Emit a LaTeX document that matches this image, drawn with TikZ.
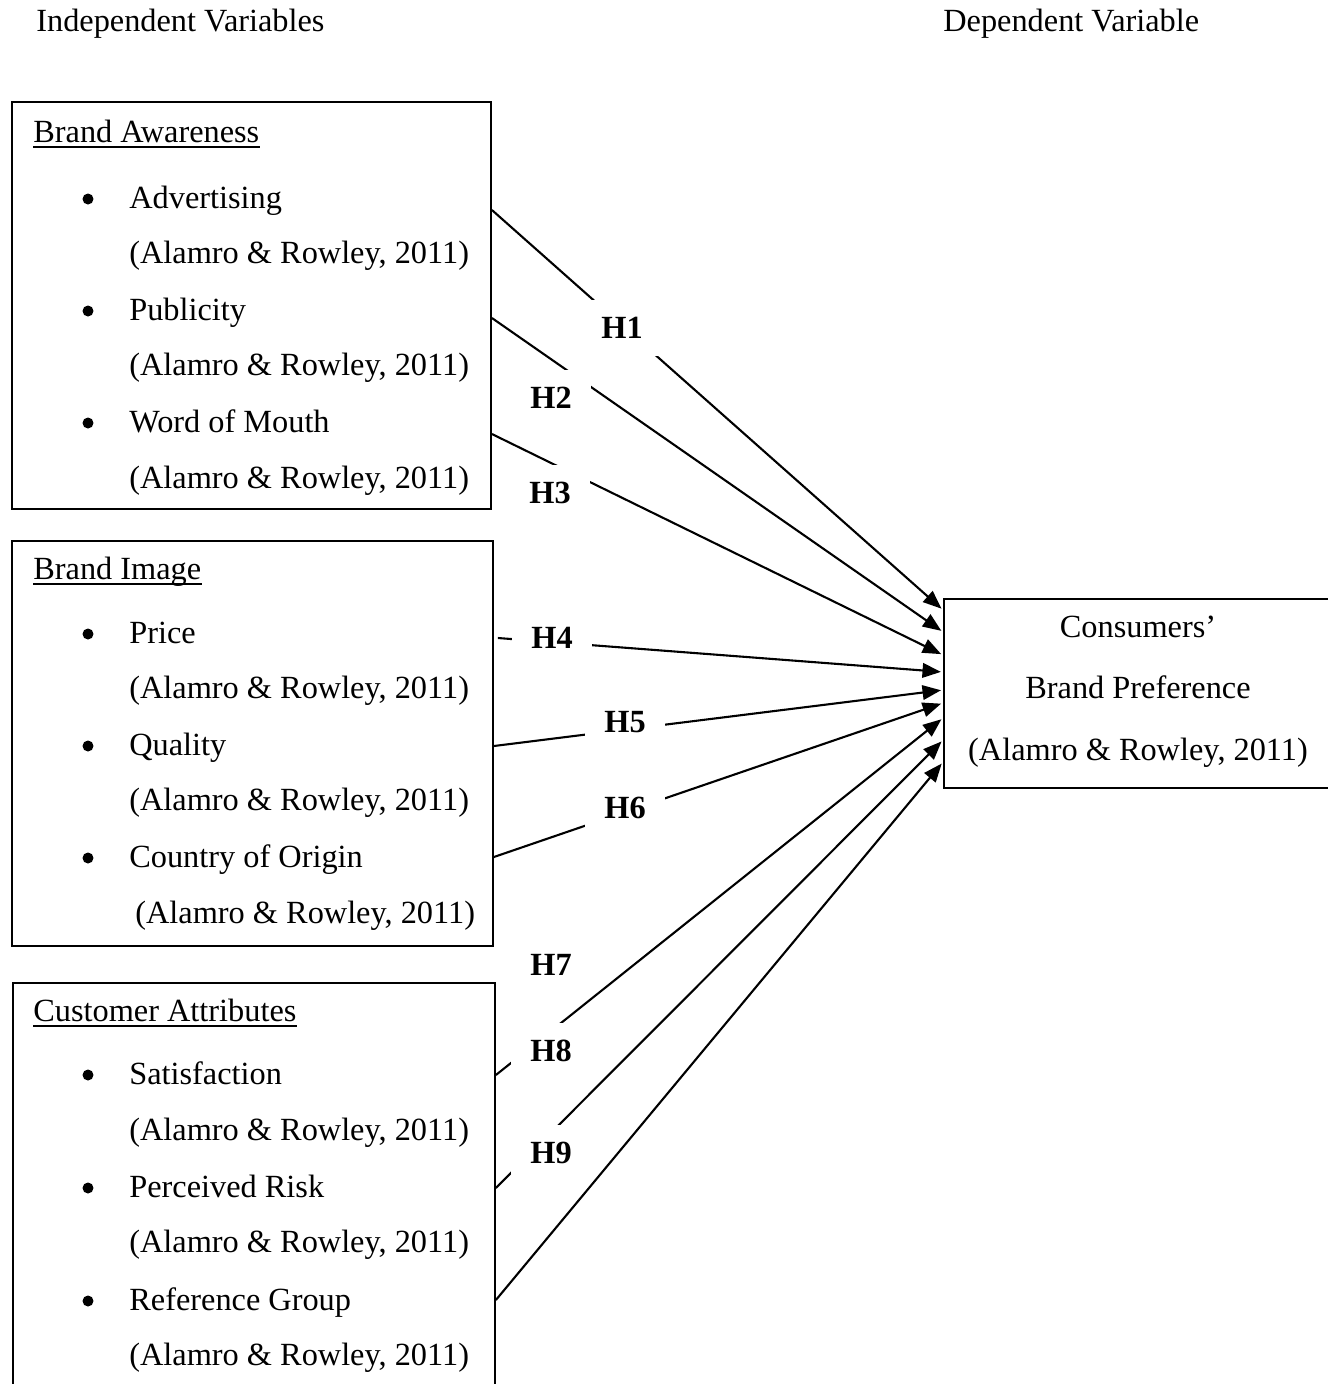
\documentclass[tikz,border=0pt]{standalone}
\usepackage{fontspec}
\setmainfont{Liberation Serif}
\usetikzlibrary{arrows.meta}
\begin{document}
\begin{tikzpicture}[x=0.02cm,y=-0.02cm, font=\fontsize{18.4}{21}\selectfont,
  box/.style={draw, line width=0.04cm, anchor=north west, inner sep=0},
  txt/.style={anchor=base west, inner sep=0},
  ctxt/.style={anchor=base, inner sep=0},
  hyp/.style={fill=white, inner sep=0, minimum width=1.62cm, minimum height=1.12cm, font=\fontsize{18.4}{21}\selectfont\bfseries},
  link/.style={line width=0.042cm, shorten >=0.04cm, -{Triangle[length=0.37cm,width=0.29cm]}},
  bul/.style={circle, fill, inner sep=0, minimum size=0.22cm},
  uline/.style={line width=0.03cm}]
\useasboundingbox (0,0) rectangle (1328,1384);
\clip (0,0) rectangle (1328,1384);

% headers
\node[txt] (iv) at (36,31) {Independent Variables};
\node[txt] (dv) at (943,31) {Dependent Variable};

% boxes
\node[box, minimum width=9.58cm, minimum height=8.14cm] (ba) at (11,101) {};
\node[box, minimum width=9.62cm, minimum height=8.10cm] (bi) at (11,540) {};
\node[box, minimum width=9.64cm, minimum height=8.80cm] (ca) at (12,982) {};
\node[box, minimum width=8.00cm, minimum height=3.78cm] (cb) at (943,598) {};

% Brand Awareness
\node[txt] (t1) at (33,142) {Brand Awareness};
\draw[uline] ([yshift=-0.1cm]t1.base west) -- ([yshift=-0.1cm]t1.base east);
\node[bul] (b11) at (88,199) {};
\node[txt] (t11) at (129,208) {Advertising};
\node[txt] (c11) at (129,263) {(Alamro \& Rowley, 2011)};
\node[bul] (b12) at (88,311) {};
\node[txt] (t12) at (129,320) {Publicity};
\node[txt] (c12) at (129,375) {(Alamro \& Rowley, 2011)};
\node[bul] (b13) at (88,423) {};
\node[txt] (t13) at (129,432) {Word of Mouth};
\node[txt] (c13) at (129,488) {(Alamro \& Rowley, 2011)};

% Brand Image
\node[txt] (t2) at (33,579) {Brand Image};
\draw[uline] ([yshift=-0.1cm]t2.base west) -- ([yshift=-0.1cm]t2.base east);
\node[bul] (b21) at (88,634) {};
\node[txt] (t21) at (129,643) {Price};
\node[txt] (c21) at (129,698) {(Alamro \& Rowley, 2011)};
\node[bul] (b22) at (88,746) {};
\node[txt] (t22) at (129,755) {Quality};
\node[txt] (c22) at (129,810) {(Alamro \& Rowley, 2011)};
\node[bul] (b23) at (88,858) {};
\node[txt] (t23) at (129,867) {Country of Origin};
\node[txt] (c23) at (135,923) {(Alamro \& Rowley, 2011)};

% Customer Attributes
\node[txt] (t3) at (33,1021) {Customer Attributes};
\draw[uline] ([yshift=-0.1cm]t3.base west) -- ([yshift=-0.1cm]t3.base east);
\node[bul] (b31) at (88,1075) {};
\node[txt] (t31) at (129,1084) {Satisfaction};
\node[txt] (c31) at (129,1140) {(Alamro \& Rowley, 2011)};
\node[bul] (b32) at (88,1188) {};
\node[txt] (t32) at (129,1197) {Perceived Risk};
\node[txt] (c32) at (129,1252) {(Alamro \& Rowley, 2011)};
\node[bul] (b33) at (88,1301) {};
\node[txt] (t33) at (129,1310) {Reference Group};
\node[txt] (c33) at (129,1365) {(Alamro \& Rowley, 2011)};

% Consumers' Brand Preference
\node[ctxt] (d1) at (1138,637) {Consumers’};
\node[ctxt] (d2) at (1138,698) {Brand Preference};
\node[ctxt] (d3) at (1138,760) {(Alamro \& Rowley, 2011)};

% hypotheses links
\draw[link] (ba.east |- 0,210) -- (cb.west |- 0,610);
\draw[link] (ba.east |- 0,318) -- (cb.west |- 0,632);
\draw[link] (ba.east |- 0,434) -- (cb.west |- 0,655);
\draw[link] ([xshift=0.08cm]bi.east |- 0,638) -- (cb.west |- 0,672);
\draw[link] (bi.east |- 0,746) -- (cb.west |- 0,690);
\draw[link] (bi.east |- 0,857) -- (cb.west |- 0,703);
\draw[link] (ca.east |- 0,1075) -- (cb.west |- 0,718);
\draw[link] (ca.east |- 0,1188) -- (cb.west |- 0,740);
\draw[link] (ca.east |- 0,1300) -- (cb.west |- 0,762);

% hypothesis labels
\node[hyp] (h1) at (622,328) {H1};
\node[hyp] (h2) at (551,398) {H2};
\node[hyp] (h3) at (550,493) {H3};
\node[hyp] (h4) at (552,638) {H4};
\node[hyp] (h5) at (625,722) {H5};
\node[hyp] (h6) at (625,808) {H6};
\node[hyp] (h7) at (551,965) {H7};
\node[hyp] (h8) at (551,1051) {H8};
\node[hyp] (h9) at (551,1153) {H9};
\end{tikzpicture}
\end{document}
